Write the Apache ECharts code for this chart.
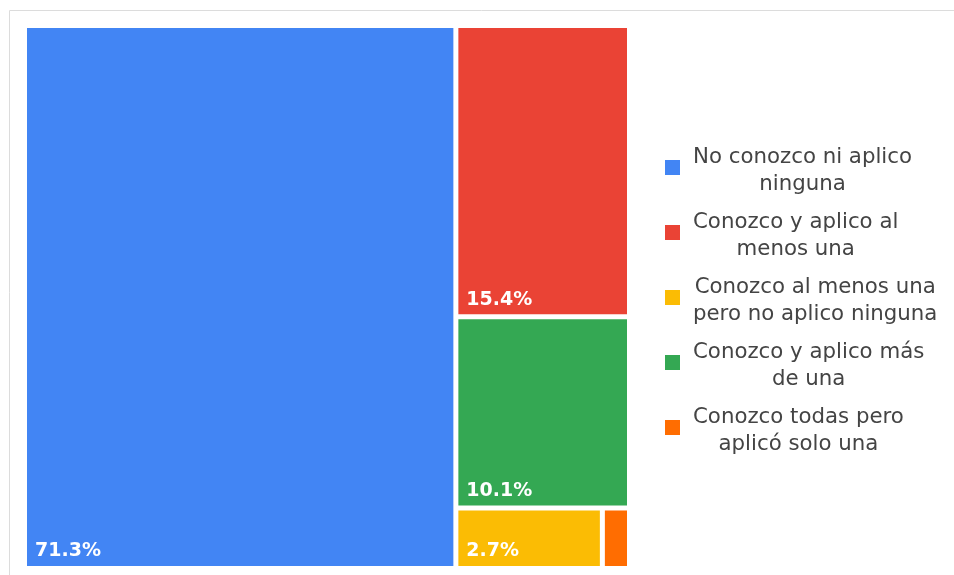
<!DOCTYPE html>
<html>
<head>
<meta charset="utf-8">
<script src="https://cdn.jsdelivr.net/npm/echarts@6/dist/echarts.min.js"></script>
<style>
html,body{margin:0;padding:0;background:#fff;}
#main{width:954px;height:575px;}
</style>
</head>
<body>
<div id="main"></div>
<script>
const categories = [
  'No conozco ni aplico\nninguna',
  'Conozco y aplico al\nmenos una',
  'Conozco al menos una\npero no aplico ninguna',
  'Conozco y aplico más\nde una',
  'Conozco todas pero\naplicó solo una'
];
const values = [71.3, 15.4, 2.7, 10.1, 0.5];
const colors = ['#4285f4', '#ea4335', '#fbbc04', '#34a853', '#ff6d01'];
const showLabel = [true, true, true, true, false];

const chart = echarts.init(document.getElementById('main'));

const treeData = categories.map((c, i) => ({
  name: c,
  value: values[i],
  itemStyle: { color: colors[i] },
  label: { show: showLabel[i] }
}));

chart.setOption({
  animation: false,
  graphic: [
    { type: 'line', shape: { x1: 9.5, y1: 10.5, x2: 954, y2: 10.5 }, style: { stroke: '#dcdcdc', lineWidth: 1 } },
    { type: 'line', shape: { x1: 9.5, y1: 10.5, x2: 9.5, y2: 575 }, style: { stroke: '#dcdcdc', lineWidth: 1 } }
  ],
  legend: {
    orient: 'vertical',
    left: 660,
    top: 142,
    itemWidth: 15,
    itemHeight: 15,
    itemGap: 17,
    icon: 'rect',
    selectedMode: false,
    data: categories.slice(),
    formatter: function (name) {
      return name.split('\n').map(l => '{c|' + l + '}').join('\n');
    },
    textStyle: {
      padding: [7, 0, 0, 0],
      rich: {
        c: {
          fontFamily: 'DejaVu Sans',
          fontSize: 21.3,
          lineHeight: 27,
          color: '#444444',
          align: 'center',
          padding: [0, 0, 0, 8]
        }
      }
    }
  },
  series: [
    {
      type: 'pie',
      radius: [0, 0],
      center: [-100, -100],
      silent: true,
      label: { show: false },
      labelLine: { show: false },
      data: categories.map((c, i) => ({ name: c, value: values[i], itemStyle: { color: colors[i] } }))
    },
    {
      type: 'treemap',
      left: 27,
      top: 28,
      width: 600,
      height: 538,
      roam: false,
      nodeClick: false,
      breadcrumb: { show: false },
      sort: 'desc',
      levels: [
        { itemStyle: { gapWidth: 5, borderWidth: 0, borderColor: '#fff' } },
        { itemStyle: { borderWidth: 0, gapWidth: 0 } }
      ],
      label: {
        show: true,
        position: 'insideBottomLeft',
        distance: 3,
        offset: [0, 3],
        formatter: function (p) { return p.value.toFixed(1) + '%'; },
        color: '#ffffff',
        fontFamily: 'DejaVu Sans',
        fontWeight: 'bold',
        fontSize: 19
      },
      emphasis: { disabled: true },
      data: treeData
    }
  ]
});
</script>
</body>
</html>
